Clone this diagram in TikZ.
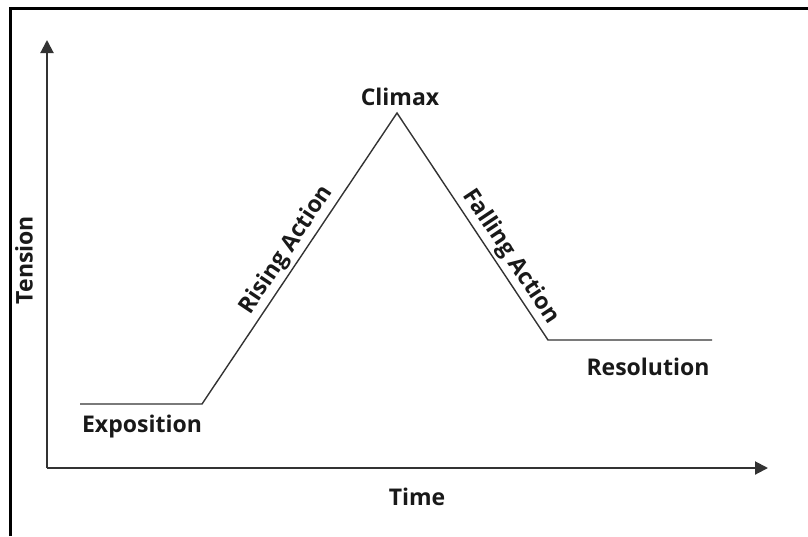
\documentclass[tikz,border=0pt]{standalone}
\usepackage{fontspec}
\usepackage{xcolor}
\usepackage{tikz}
\usetikzlibrary{arrows.meta}
\setmainfont{Open Sans}

\definecolor{plotgray}{HTML}{333333}
\tikzset{
    axis/.style={line width=2pt, draw=plotgray, -{Triangle[length=13pt,width=13pt]}},
    plotline/.style={line width=1.4pt, draw=plotgray},
    lbl/.style={font=\fontsize{23}{27}\selectfont\bfseries, text=black!90, inner sep=2pt},
}

\begin{document}
\begin{tikzpicture}[x=1pt, y=-1pt]
            \useasboundingbox (0,0) rectangle (808,536);
            \draw[line width=2.5pt] (10.5,536) -- (10.5,8.5) -- (808,8.5);

            \coordinate (o) at (47, 468);
            \coordinate (ytip) at (47, 40);
            \coordinate (xtip) at (768, 468);
            \draw[axis] (o) -- (ytip);
            \draw[axis] (o) -- (xtip);

            \coordinate (e1) at (80, 404);
            \coordinate (e2) at (202, 404);
            \coordinate (peak) at (397, 113);
            \coordinate (r1) at (548, 340);
            \coordinate (r2) at (712, 340);

            \draw[plotline] (e1) -- (e2)
                -- node[lbl, sloped, above, pos=0.5, inner sep=3pt] {Rising Action} (peak)
                -- node[lbl, sloped, above, pos=0.67, inner sep=3pt] {Falling Action} (r1)
                -- (r2);

            \node[lbl] (expo) at (142, 427) {Exposition};
            \node[lbl] (climax) at (400, 97) {Climax};
            \node[lbl] (reso) at (648, 367) {Resolution};
            \node[lbl] (time) at (417, 497) {Time};
            \node[lbl, rotate=90] (tension) at (24, 260) {Tension};
        \end{tikzpicture}
\end{document}
